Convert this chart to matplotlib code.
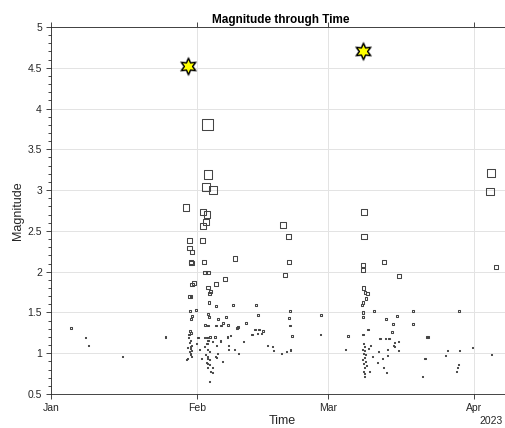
import matplotlib
matplotlib.use('Agg')
import matplotlib.pyplot as plt
import numpy as np
import pandas as pd

START = pd.Timestamp('2023-01-01')

# event times (days after 1 Jan 2023) and magnitudes
day_offsets = [
    4.3, 7.4, 7.9, 15.3, 24.3, 28.9,
    # early Feb, larger events
    33.2, 33.4, 33.0, 34.5, 28.7, 32.3, 33.2, 33.0, 32.3, 29.4, 32.3, 29.4,
    30.0, 29.8, 29.9, 32.6, 39.1,
    32.8, 33.4, 37.0, 30.0, 30.4, 33.4, 35.1, 29.4, 29.8, 33.8, 34.0, 33.6,
    35.1, 38.7, 43.6, 29.6, 30.9, 30.0, 29.8, 33.4, 33.6, 35.5, 37.2, 36.6,
    32.8, 33.4, 35.1, 36.2, 37.7, 39.8, 41.5, 43.4, 44.3, 45.1, 42.8, 44.0,
    # around 19-20 Feb
    49.4, 50.6, 50.6, 49.8, 50.9, 50.6, 57.4, 50.9, 51.3, 57.4, 43.9, 44.8,
    46.0, 47.2, 47.4, 49.1, 50.1, 50.9, 50.9,
    # early Feb, small events
    29.6, 29.8, 29.4, 29.6, 29.4, 29.8, 29.6, 29.1, 29.6, 30.0, 29.4, 29.6,
    29.1, 30.0, 29.3, 29.7, 31.3, 32.6, 33.2, 33.4, 33.8, 34.9, 34.3, 33.2,
    32.6, 33.4, 33.8, 32.8, 33.2, 33.4, 33.8, 33.0, 33.4, 33.8, 34.3, 33.4,
    34.0, 34.3, 33.8, 35.3, 35.5, 34.9, 35.3, 37.7, 37.7, 39.1, 39.8, 37.5,
    38.2, 39.6, 40.9, 36.0, 31.5, 32.0, 36.5, 31.0,
    # March sequence
    66.6, 66.6, 66.4, 66.4, 70.9, 74.0, 66.4, 66.8, 67.4, 66.4, 66.2, 67.0,
    68.7, 77.0, 66.4, 66.4, 73.6, 71.3, 72.8, 77.0, 63.2, 67.4, 66.4, 72.6,
    80.0, 62.6, 70.0, 71.1, 71.9, 73.0, 74.0, 72.8, 73.0, 73.9, 69.6, 71.7,
    69.4, 70.6, 71.5, 70.8, 71.3, 79.4, 79.0, 67.8,
    66.4, 66.6, 66.2, 66.8, 66.4, 67.0, 66.6, 66.3, 66.9, 66.5, 67.2, 66.6,
    66.4, 66.8, 66.6, 67.5, 68.0, 68.3,
    # late March / April
    86.8, 80.2, 84.3, 87.0, 89.6, 84.0, 93.8, 86.6, 86.4, 86.2, 79.6,
    93.6, 93.4, 94.7,
]
magnitudes = [
    1.31, 1.19, 1.09, 0.96, 1.20, 0.92,
    3.80, 3.19, 3.04, 3.00, 2.79, 2.73, 2.70, 2.61, 2.56, 2.38, 2.38, 2.29,
    2.24, 2.12, 2.11, 2.12, 2.16,
    1.99, 1.99, 1.91, 1.84, 1.86, 1.81, 1.85, 1.70, 1.70, 1.73, 1.76, 1.62,
    1.58, 1.59, 1.59, 1.52, 1.53, 1.46, 1.42, 1.48, 1.45, 1.42, 1.45, 1.37,
    1.35, 1.34, 1.34, 1.34, 1.35, 1.32, 1.37, 1.29, 1.29, 1.27, 1.23, 1.47,
    2.57, 2.43, 2.12, 1.96, 1.52, 1.43, 1.47, 1.34, 1.21, 1.23, 1.24, 1.24,
    1.09, 1.08, 1.03, 1.00, 1.02, 1.05, 1.03,
    1.27, 1.25, 1.23, 1.16, 1.13, 1.10, 1.08, 1.07, 1.06, 1.03, 1.02, 0.99,
    0.94, 0.96, 1.19, 1.00, 1.19, 1.19, 1.19, 1.16, 1.20, 1.20, 1.14, 1.12,
    1.08, 1.05, 1.02, 0.98, 0.96, 0.94, 0.92, 0.89, 0.88, 0.86, 0.83, 0.82,
    0.77, 0.76, 0.65, 1.10, 1.00, 0.96, 0.95, 1.10, 1.04, 1.04, 1.00, 1.20,
    1.22, 1.31, 1.14, 1.15, 1.05, 0.93, 0.90, 1.12,
    2.73, 2.43, 2.08, 2.02, 2.12, 1.95, 1.80, 1.74, 1.73, 1.62, 1.59, 1.67,
    1.52, 1.52, 1.50, 1.45, 1.46, 1.42, 1.36, 1.36, 1.21, 1.29, 1.23, 1.26,
    1.20, 1.05, 1.18, 1.18, 1.18, 1.13, 1.14, 1.09, 1.08, 1.03, 1.02, 1.04,
    0.89, 0.93, 0.97, 0.83, 0.76, 0.94, 0.72, 0.77,
    1.12, 1.08, 1.05, 1.03, 1.00, 0.98, 0.95, 0.92, 0.90, 0.87, 0.85, 0.82,
    0.78, 0.75, 0.71, 1.06, 1.10, 0.96,
    1.52, 1.20, 1.03, 1.03, 1.07, 0.97, 0.99, 0.86, 0.82, 0.77, 0.94,
    3.21, 2.98, 2.06,
]

# the two largest events, drawn as stars
big_day_offsets = [29.1, 66.4]
big_magnitudes = [4.52, 4.71]

month_ticks = ['2023-01-01', '2023-02-01', '2023-03-01', '2023-04-01']
month_labels = ['Jan', 'Feb', 'Mar', 'Apr']

W, H, DPI = 506, 428, 100
plt.rcParams['font.family'] = ['Liberation Sans', 'DejaVu Sans']
TXT = '#262626'

times = START + pd.to_timedelta(np.array(day_offsets), unit='D')
big_times = START + pd.to_timedelta(np.array(big_day_offsets), unit='D')
mags = np.array(magnitudes)

fig = plt.figure(figsize=(W / DPI, H / DPI), dpi=DPI)
ax_left, ax_right, ax_top, ax_bottom = 51, 506, 27, 394
ax = fig.add_axes([ax_left / W, 1 - ax_bottom / H,
                   (ax_right - ax_left) / W, (ax_bottom - ax_top) / H])

# square side grows with magnitude (pixels -> points)
side_px = np.clip(1.6 * mags ** 1.5 - 0.8, 1.0, None)
side_pt = side_px * 72 / DPI
ax.scatter(times, mags, s=side_pt ** 2, marker='s', facecolors='none',
           edgecolors='#454545', linewidths=0.75, zorder=3)

# big events: yellow six-pointed stars with grey halo
ax.plot(big_times, big_magnitudes, linestyle='none', marker=(6, 1, 0),
        markersize=13.5, color='#9a9a9a', zorder=4)
ax.plot(big_times, big_magnitudes, linestyle='none', marker=(6, 1, 0),
        markersize=11.5, markerfacecolor='#ffff00', markeredgecolor='black',
        markeredgewidth=0.9, zorder=5)

ax.set_xlim(START, START + pd.Timedelta(days=(ax_right - ax_left) / 4.7))
ax.set_ylim(0.5, 5)
ax.set_xticks(pd.to_datetime(month_ticks))
ax.set_xticklabels(month_labels)
ax.set_yticks(np.arange(0.5, 5.01, 0.5))
ax.set_yticklabels([f'{v:g}' for v in np.arange(0.5, 5.01, 0.5)])
ax.set_yticks(np.arange(0.5, 5.01, 0.1), minor=True)

ax.grid(True, which='major', color='#e3e3e3', linewidth=0.7)
ax.set_axisbelow(True)
for side in ['left', 'bottom', 'top']:
    ax.spines[side].set_color(TXT)
    ax.spines[side].set_linewidth(0.6)
ax.spines['right'].set_visible(False)
ax.tick_params(which='both', direction='out', colors=TXT, labelsize=7.5,
               top=True, right=False, width=0.6)
ax.tick_params(which='major', length=3.5, pad=3)
ax.tick_params(which='minor', length=2, top=False)
ax.tick_params(axis='x', which='minor', bottom=False)

fig.text(281 / W, 1 - 20 / H, 'Magnitude through Time', ha='center',
         va='center', fontsize=8.5, fontweight='bold', color='black')
fig.text(282 / W, 1 - 421 / H, 'Time', ha='center', va='center',
         fontsize=9, color=TXT)
fig.text(503 / W, 1 - 421 / H, '2023', ha='right', va='center',
         fontsize=7.5, color=TXT)
fig.text(18 / W, 1 - 211 / H, 'Magnitude', ha='center', va='center',
         rotation=90, fontsize=9, color=TXT)

fig.savefig('out.png', dpi=DPI)
